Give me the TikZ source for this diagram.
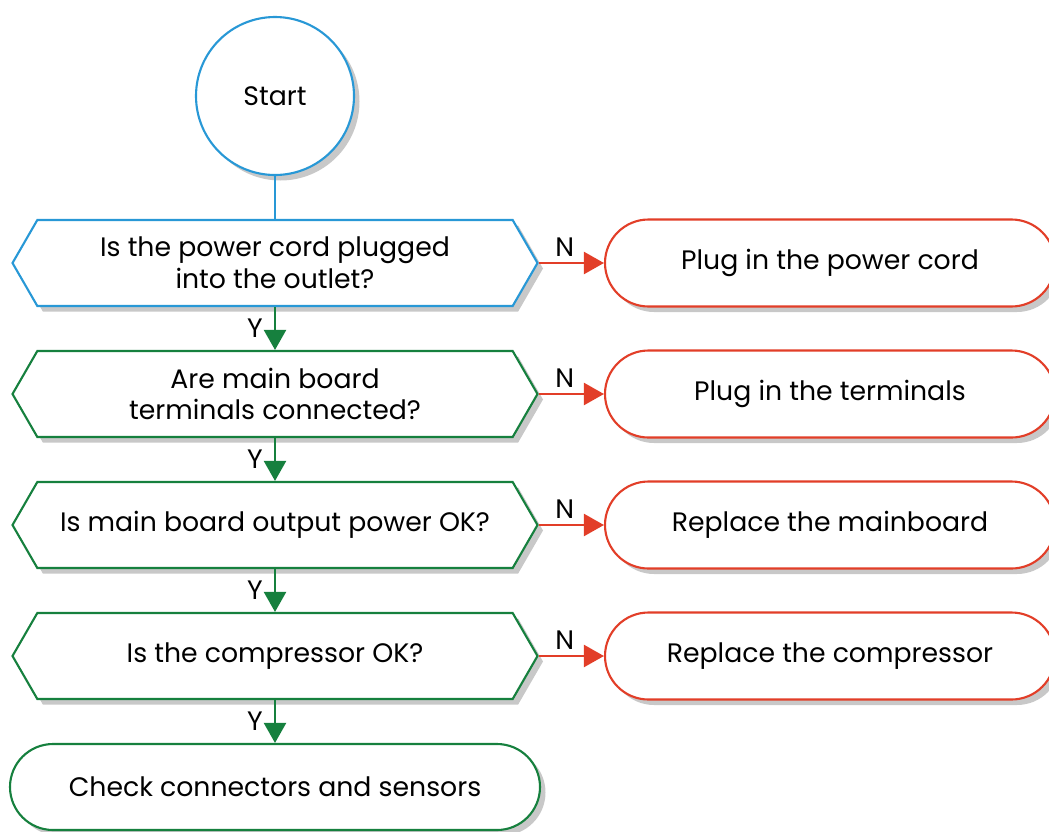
\documentclass[tikz,border=0pt]{standalone}
\usepackage{fontspec}
\setmainfont{Poppins}
\usetikzlibrary{shapes.misc,shapes.symbols,shadows,arrows.meta}
\definecolor{fix@blue}{RGB}{40,152,214}
\definecolor{fix@green}{RGB}{22,128,62}
\definecolor{fix@red}{RGB}{226,62,40}
\definecolor{fix@shadow}{RGB}{200,200,200}

\tikzset{
  flowtext/.style={font=\fontsize{15.2}{18}\selectfont, align=center, text=black},
  shade@drop/.style={drop shadow={shadow xshift=0.11cm, shadow yshift=-0.11cm, fill=fix@shadow, opacity=1}},
  startbox/.style={circle, line width=1.2pt, fill=white, minimum size=3.16cm,
    inner sep=0pt, flowtext, shade@drop},
  askbox/.style={signal, signal to=west and east, signal pointer angle=120,
    line width=1.2pt, fill=white, minimum width=10.5cm, minimum height=1.72cm,
    inner sep=0pt, flowtext, shade@drop},
  fixbox/.style={rounded rectangle, line width=1.2pt, fill=white,
    minimum width=9.0cm, minimum height=1.74cm, inner sep=0pt, flowtext, shade@drop},
  flowarrow/.style={-{Triangle[length=0.4cm,width=0.44cm]}, line width=1.3pt},
  flowlabel/.style={font=\fontsize{15.2}{18}\selectfont, text=black},
}

\begin{document}
\begin{tikzpicture}

\useasboundingbox (0,0) rectangle (20.98,-16.62);

% Start
\node[startbox, draw=fix@blue] (start) at (5.5,-1.92) {Start};

% Questions
\node[askbox, draw=fix@blue] (q1) at (5.5,-5.26) {Is the power cord plugged\\into the outlet?};
\node[askbox, draw=fix@green] (q2) at (5.5,-7.88) {Are main board\\terminals connected?};
\node[askbox, draw=fix@green] (q3) at (5.5,-10.5) {Is main board output power OK?};
\node[askbox, draw=fix@green] (q4) at (5.5,-13.12) {Is the compressor OK?};

% Fixes
\node[fixbox, draw=fix@red] (fix1) at (16.6,-5.26) {Plug in the power cord};
\node[fixbox, draw=fix@red] (fix2) at (16.6,-7.88) {Plug in the terminals};
\node[fixbox, draw=fix@red] (fix3) at (16.6,-10.5) {Replace the mainboard};
\node[fixbox, draw=fix@red] (fix4) at (16.6,-13.12) {Replace the compressor};

% End
\node[fixbox, draw=fix@green, minimum width=10.6cm, minimum height=1.72cm] (check) at (5.5,-15.74)
  {Check connectors and sensors};

% Connectors
\draw[fix@blue, line width=1.3pt] (start.south) -- (q1.north);

\draw[flowarrow, fix@green] (q1.south) -- node[flowlabel, left, xshift=-3pt] {Y} (q2.north);
\draw[flowarrow, fix@green] (q2.south) -- node[flowlabel, left, xshift=-3pt] {Y} (q3.north);
\draw[flowarrow, fix@green] (q3.south) -- node[flowlabel, left, xshift=-3pt] {Y} (q4.north);
\draw[flowarrow, fix@green] (q4.south) -- node[flowlabel, left, xshift=-3pt] {Y} (check.north);

\draw[flowarrow, fix@red] (q1.east) -- node[flowlabel, above, pos=0.4] {N} (fix1.west);
\draw[flowarrow, fix@red] (q2.east) -- node[flowlabel, above, pos=0.4] {N} (fix2.west);
\draw[flowarrow, fix@red] (q3.east) -- node[flowlabel, above, pos=0.4] {N} (fix3.west);
\draw[flowarrow, fix@red] (q4.east) -- node[flowlabel, above, pos=0.4] {N} (fix4.west);

\end{tikzpicture}
\end{document}
